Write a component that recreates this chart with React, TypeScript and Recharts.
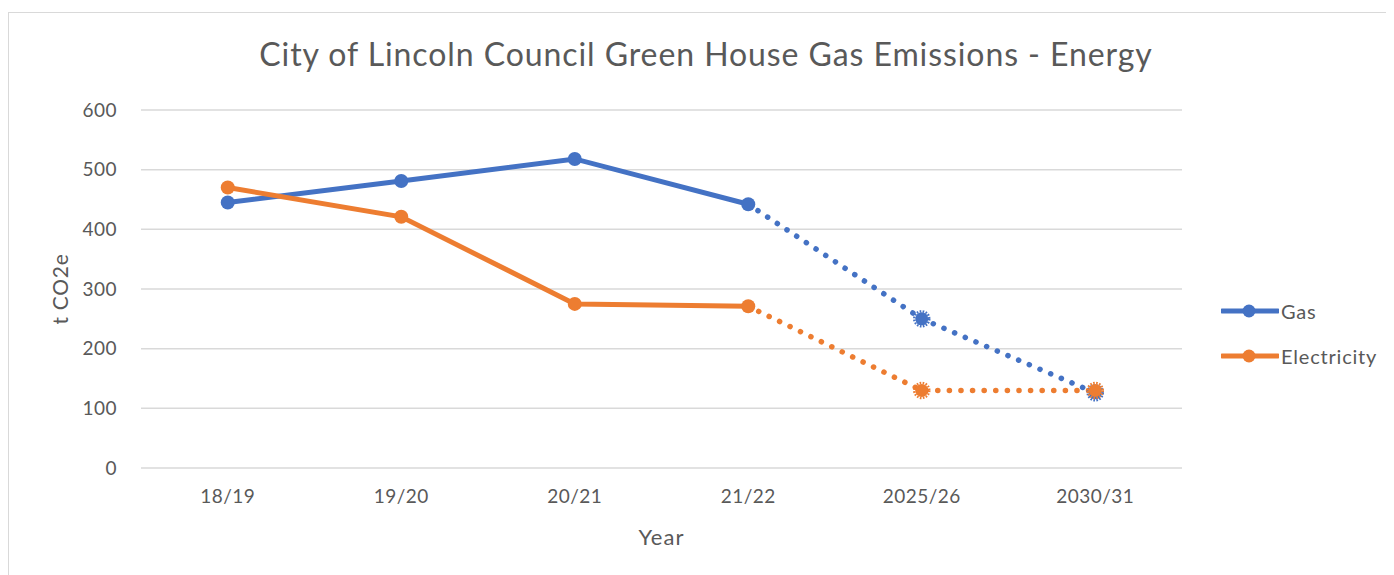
import React from 'react';
import { LineChart, Line, XAxis, YAxis, CartesianGrid, Label } from 'recharts';

const categories = ['18/19', '19/20', '20/21', '21/22', '2025/26', '2030/31'];
const gasActual = [445, 481, 518, 442, null, null];
const gasTarget = [null, null, null, 442, 250, 126];
const elecActual = [470, 421, 275, 271, null, null];
const elecTarget = [null, null, null, 271, 130, 130];
const yTicks = [0, 100, 200, 300, 400, 500, 600];

const GAS = '#4472C4';
const ELEC = '#ED7D31';
const TEXT = '#595959';
const FONT = 'Lato, "Open Sans", sans-serif';

const data = categories.map((year, i) => ({
  year,
  gasActual: gasActual[i],
  gasTarget: gasTarget[i],
  elecActual: elecActual[i],
  elecTarget: elecTarget[i],
}));

const solidDot = (color: string) => (props: any) => {
  const { cx, cy, index, value } = props;
  if (value == null || cx == null) return <g key={index} />;
  return <circle key={index} cx={cx} cy={cy} r={7} fill={color} />;
};

// projected points: jagged "starburst" marker, the joint point (21/22) is drawn by the solid series
const targetDot = (color: string) => (props: any) => {
  const { cx, cy, index, value } = props;
  if (value == null || cx == null || index === 3) return <g key={index} />;
  return (
    <g key={index}>
      <circle cx={cx} cy={cy} r={6.5} fill={color} />
      <circle cx={cx} cy={cy} r={7.5} fill="none" stroke={color} strokeWidth={2.5} strokeDasharray="1.6 1.4" />
    </g>
  );
};

const LegendItem = ({ color, label }: { color: string; label: string }) => (
  <div style={{ display: 'flex', alignItems: 'center', height: 22 }}>
    <svg width={58} height={16}>
      <line x1={1} y1={8} x2={57} y2={8} stroke={color} strokeWidth={5} strokeLinecap="round" />
      <circle cx={28} cy={8} r={6.5} fill={color} />
    </svg>
    <span style={{ marginLeft: 2, fontSize: 20, letterSpacing: 0.8, color: TEXT }}>{label}</span>
  </div>
);

const tickStyle = { fill: TEXT, fontSize: 19, fontFamily: FONT, letterSpacing: 0.5 };

export default function App() {
  return (
    <div
      style={{
        position: 'relative',
        marginTop: 4,
        width: 1392,
        height: 570,
        border: '1px solid #d9d9d9',
        fontFamily: FONT,
        background: '#fff',
      }}
    >
      <div
        style={{
          position: 'absolute',
          left: 0,
          width: 1394,
          top: 21,
          textAlign: 'center',
          fontSize: 32,
          letterSpacing: 0.92,
          color: TEXT,
          whiteSpace: 'nowrap',
        }}
      >
        City of Lincoln Council Green House Gas Emissions - Energy
      </div>
      <LineChart width={1392} height={570} data={data} margin={{ top: 97, right: 219, bottom: 0, left: 0 }}>
        <CartesianGrid vertical={false} stroke="#d9d9d9" strokeWidth={1.5} />
        <XAxis
          dataKey="year"
          axisLine={false}
          tickLine={false}
          tickSize={0}
          tickMargin={22}
          height={115}
          padding={{ left: 86.75, right: 86.75 }}
          tick={tickStyle}
        >
          <Label
            content={({ viewBox }: any) => (
              <text
                x={viewBox.x + viewBox.width / 2}
                y={viewBox.y + 77}
                textAnchor="middle"
                fill={TEXT}
                fontSize={22}
                letterSpacing={1}
                fontFamily={FONT}
              >
                Year
              </text>
            )}
          />
        </XAxis>
        <YAxis
          width={132}
          domain={[0, 600]}
          ticks={yTicks}
          axisLine={false}
          tickLine={false}
          tickSize={0}
          tickMargin={24}
          tick={tickStyle}
        >
          <Label
            content={({ viewBox }: any) => {
              const x = viewBox.x + 59;
              const y = viewBox.y + viewBox.height / 2;
              return (
                <text
                  x={x}
                  y={y}
                  transform={`rotate(-90 ${x} ${y})`}
                  textAnchor="middle"
                  fill={TEXT}
                  fontSize={21}
                  letterSpacing={0.7}
                  fontFamily={FONT}
                >
                  t CO2e
                </text>
              );
            }}
          />
        </YAxis>
        <Line
          dataKey="gasTarget"
          stroke={GAS}
          strokeWidth={5.5}
          strokeDasharray="0.1 11.5"
          strokeLinecap="round"
          dot={targetDot(GAS)}
          activeDot={false}
          isAnimationActive={false}
        />
        <Line
          dataKey="elecTarget"
          stroke={ELEC}
          strokeWidth={5.5}
          strokeDasharray="0.1 11.5"
          strokeLinecap="round"
          dot={targetDot(ELEC)}
          activeDot={false}
          isAnimationActive={false}
        />
        <Line
          dataKey="gasActual"
          stroke={GAS}
          strokeWidth={5}
          dot={solidDot(GAS)}
          activeDot={false}
          isAnimationActive={false}
        />
        <Line
          dataKey="elecActual"
          stroke={ELEC}
          strokeWidth={5}
          dot={solidDot(ELEC)}
          activeDot={false}
          isAnimationActive={false}
        />
      </LineChart>
      <div style={{ position: 'absolute', left: 1212, top: 287 }}>
        <LegendItem color={GAS} label="Gas" />
        <div style={{ height: 23 }} />
        <LegendItem color={ELEC} label="Electricity" />
      </div>
    </div>
  );
}
